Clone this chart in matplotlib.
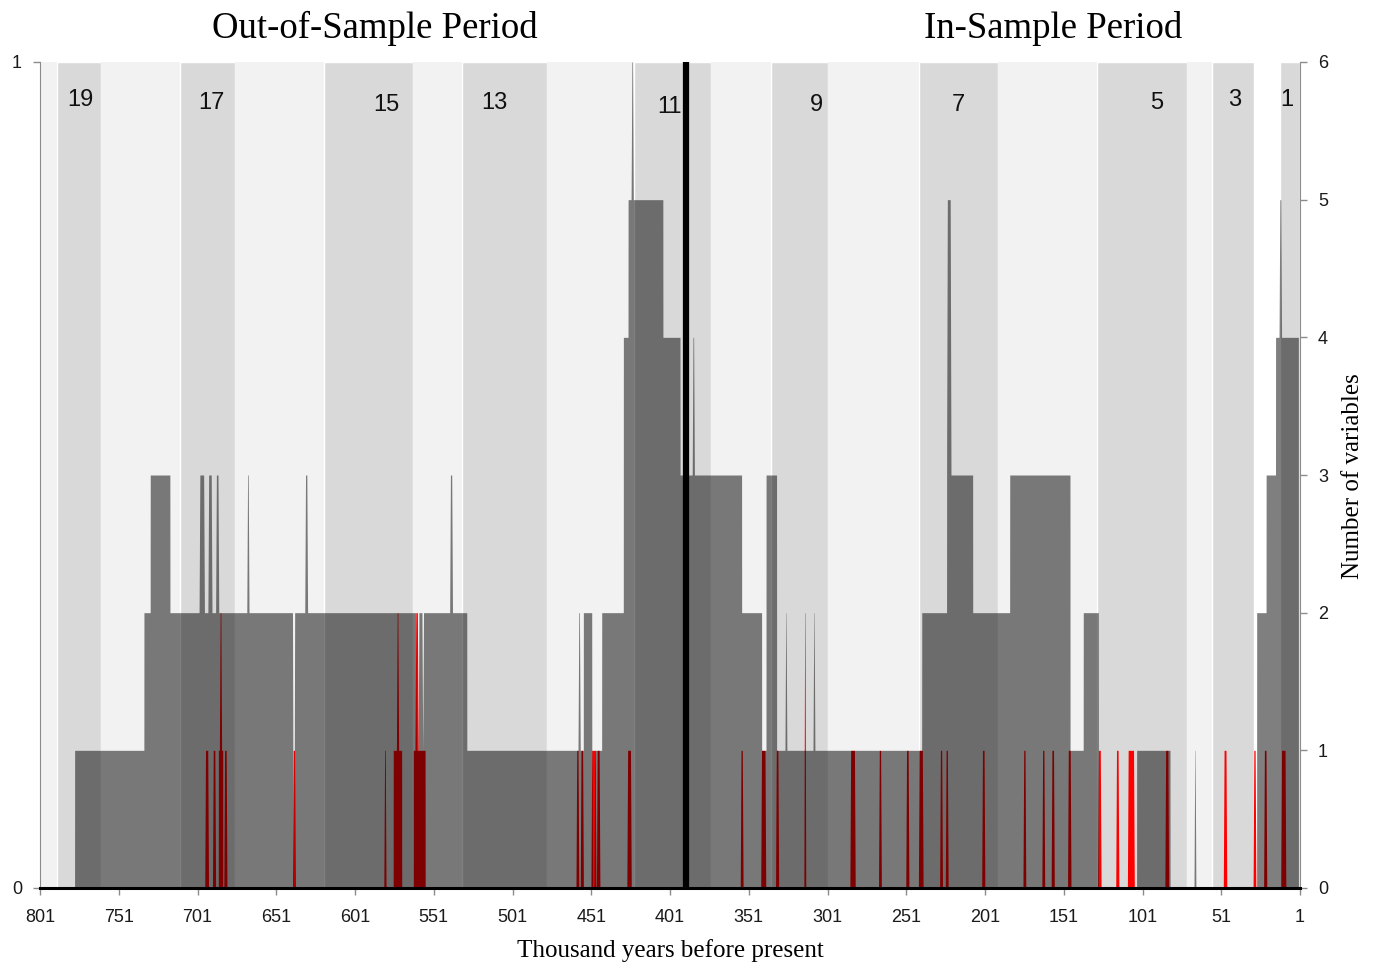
import numpy as np
import matplotlib.pyplot as plt

# shading of marine isotope stages (kyr before present)
band_from = [801, 790, 762, 712, 677, 621, 564, 533, 479, 424, 375, 337, 301, 243, 193, 130, 72.6, 57, 30, 14]
band_to = [790, 762, 712, 677, 621, 564, 533, 479, 424, 375, 337, 301, 243, 193, 130, 72.6, 57, 30, 14, 1]
band_kind = ['glacial', 'interglacial', 'glacial', 'interglacial', 'glacial', 'interglacial',
             'glacial', 'interglacial', 'glacial', 'interglacial', 'glacial', 'interglacial',
             'glacial', 'interglacial', 'glacial', 'interglacial', 'glacial', 'interglacial',
             'none', 'interglacial']

stage_number = [19, 17, 15, 13, 11, 9, 7, 5, 3, 1]
stage_label_age = [775.6, 692.4, 581.3, 512.7, 401.6, 308.0, 218.0, 91.8, 42.3, 9.3]
stage_label_height = [0.954, 0.950, 0.948, 0.950, 0.9455, 0.948, 0.948, 0.950, 0.954, 0.954]

# number of variables (grey), piecewise constant between edges
nv_edges = [801, 779, 735, 731, 718.5, 530, 456, 450.7, 444.4, 430.6, 427.6, 405.5, 394.6, 355.5,
            342.8, 340, 333.3, 241.2, 225.3, 208.8, 185.3, 147, 138.6, 129, 104.7, 83.5, 28.5,
            22.5, 16.5, 2, 1]
nv_level = [0, 1, 2, 3, 2, 1, 2, 1, 2, 4, 5, 4, 3, 2, 1, 3, 1, 2, 3, 2, 3, 1, 2, 0, 1, 0, 2, 3, 4, 0]

# short spikes and dips of the grey series
nv_peak_age = [698.3, 693.1, 688.5, 669.0, 632.0, 540.0, 458.7, 425.0, 386.2, 327.4, 309.6, 224.0, 67.7, 13.5]
nv_peak_level = [3, 3, 3, 3, 3, 3, 2, 6, 4, 2, 2, 5, 1, 5]
nv_peak_width = [3.4, 2.6, 2.0, 1.4, 1.8, 1.8, 1.4, 1.4, 1.4, 1.2, 1.2, 2.8, 1.2, 1.6]
nv_dip_age = [640.0, 561.5, 558.0, 449.7]
nv_dip_level = [0, 1, 1, 0]
nv_dip_width = [1.4, 2.2, 1.0, 1.8]

# red series
red_block_from = [687.8, 576.7, 564.0]
red_block_to = [685.0, 571.4, 556.5]
red_block_level = [1, 1, 1]
red_age = [695.2, 690.5, 686.4, 683.3, 639.8, 582.0, 574.0, 561.9,
           459.8, 457.0, 449.6, 446.6, 427.0, 355.5, 341.8, 333.0,
           315.4, 285.1, 267.7, 250.3, 241.8, 228.9, 225.3, 202.1,
           176.0, 164.0, 158.0, 147.5, 128.4, 117.0, 108.4, 85.6,
           48.6, 29.9, 23.1, 11.6]
red_level = [1, 1, 2, 1, 1, 1, 2, 2,
             1, 1, 1, 1, 1, 1, 1, 1,
             2, 1, 1, 1, 1, 1, 1, 1,
             1, 1, 1, 1, 1, 1, 1, 1,
             1, 1, 1, 1]
red_width = [2.4, 2.0, 1.4, 2.0, 1.8, 1.4, 1.4, 2.0,
             1.8, 2.0, 3.2, 2.2, 2.8, 1.8, 3.2, 2.0,
             1.2, 3.4, 1.8, 2.0, 3.0, 1.8, 1.8, 2.0,
             1.8, 1.8, 2.0, 2.2, 2.2, 2.0, 4.4, 2.4,
             2.2, 1.8, 2.0, 3.2]

split_age = 390.6


def bump(x, c, w):
    # 0..1 profile of a narrow spike centred on c with base width w
    half = w / 2.0
    top = max(half - 0.5, 0.0)
    return np.clip((half - np.abs(x - c)) / (half - top), 0, 1)


def add_spikes(y, x, ages, levels, widths, up=True):
    base = y.copy()
    for c, h, w in zip(ages, levels, widths):
        b = bump(x, c, w)
        b0 = np.interp(c, x, base)
        prof = b0 + (h - b0) * b
        near = b > 0
        if up:
            y[near] = np.maximum(y[near], prof[near])
        else:
            y[near] = np.minimum(y[near], prof[near])
    return y


x = np.linspace(1, 801, 16001)

grey = np.zeros_like(x)
for i in range(len(nv_level)):
    m = (x <= nv_edges[i]) & (x > nv_edges[i + 1])
    grey[m] = nv_level[i]
grey_steps = grey.copy()
grey = add_spikes(grey, x, nv_peak_age, nv_peak_level, nv_peak_width)
grey2 = add_spikes(grey_steps.copy(), x, nv_dip_age, nv_dip_level, nv_dip_width, up=False)
grey = np.minimum(grey, np.where(grey2 < grey_steps, grey2, grey))

red = np.zeros_like(x)
for a, b, h in zip(red_block_from, red_block_to, red_block_level):
    red[(x <= a) & (x >= b)] = h
red = add_spikes(red, x, red_age, red_level, red_width)

fig = plt.figure(figsize=(13.74, 9.65), dpi=100)
ax = fig.add_axes([40 / 1374, 77 / 965, 1260 / 1374, 826 / 965])
ax.set_facecolor('white')

shade = {'glacial': '#f2f2f2', 'interglacial': '#d9d9d9', 'none': 'white'}
for a, b, k in zip(band_from, band_to, band_kind):
    if k == 'interglacial':
        ax.axvspan(b, a, facecolor=shade[k], edgecolor='white', linewidth=1.0, zorder=0)
    else:
        ax.axvspan(b, a, facecolor=shade[k], linewidth=0, zorder=0)

for n, a, h in zip(stage_number, stage_label_age, stage_label_height):
    ax.text(a, h, str(n), transform=ax.get_xaxis_transform(), ha='center', va='center',
            fontsize=17, family='Liberation Sans', color='#111111')

ax.set_xlim(801, 1)
ax.set_ylim(0, 1)
ax.set_xticks(np.arange(801, 0, -50))
ax.set_xticklabels([str(v) for v in np.arange(801, 0, -50)])
ax.set_yticks([0, 1])
ax.tick_params(axis='both', direction='out', length=5, width=1, color='#8c8c8c',
               labelsize=13, labelcolor='#1a1a1a', pad=8)
ax.tick_params(axis='x', pad=10)
for lab in ax.get_xticklabels() + ax.get_yticklabels():
    lab.set_family('Liberation Sans')
ax.spines['top'].set_visible(False)
ax.spines['right'].set_visible(False)
ax.spines['bottom'].set_visible(False)
ax.spines['left'].set_color('#8c8c8c')

ax2 = ax.twinx()
ax2.fill_between(x, 0, red, color='#ff0000', linewidth=0, zorder=1)
ax2.fill_between(x, 0, grey, color='black', alpha=0.5, linewidth=0, zorder=2)
ax2.axvline(split_age, color='black', linewidth=4.5, zorder=3)
ax2.set_ylim(0, 6)
ax2.set_yticks(range(7))
ax2.tick_params(axis='y', direction='out', length=5, width=1, color='#8c8c8c',
                labelsize=13, labelcolor='#1a1a1a', pad=8)
for lab in ax2.get_yticklabels():
    lab.set_family('Liberation Sans')
ax2.spines['top'].set_visible(False)
ax2.spines['left'].set_visible(False)
ax2.spines['right'].set_color('#8c8c8c')
ax2.spines['bottom'].set_color('black')
ax2.spines['bottom'].set_linewidth(2.2)

fig.text(375 / 1374, 1 - 38 / 965, 'Out-of-Sample Period', ha='center', va='baseline',
         fontsize=26.5, family='Liberation Serif')
fig.text(1053 / 1374, 1 - 38 / 965, 'In-Sample Period', ha='center', va='baseline',
         fontsize=26.5, family='Liberation Serif')
fig.text(670 / 1374, 1 - 957 / 965, 'Thousand years before present', ha='center', va='baseline',
         fontsize=18, family='Liberation Serif')
fig.text(1353 / 1374, 1 - 476 / 965, 'Number of variables', ha='center', va='center',
         rotation=90, fontsize=18, family='Liberation Serif')

plt.savefig('out.png', dpi=100)
